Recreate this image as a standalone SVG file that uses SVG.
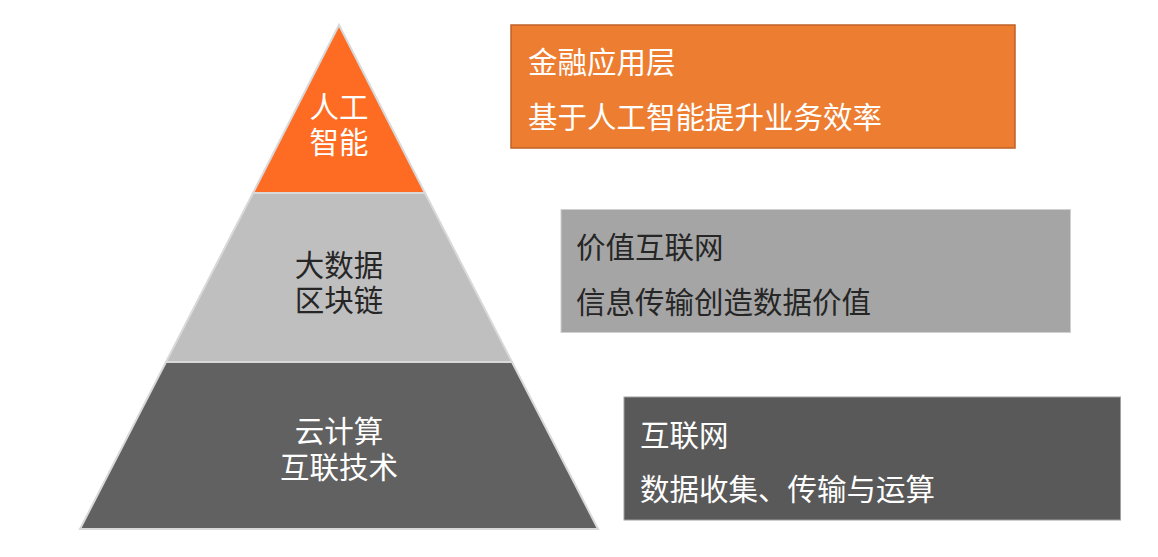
<svg xmlns="http://www.w3.org/2000/svg" width="1158" height="557" viewBox="0 0 1158 557">
<style>
  text { font-family: "Noto Sans CJK SC", "Noto Sans", sans-serif; font-size: 29.5px; }
  .c { text-anchor: middle; }
  .w { fill: #FFFFFF; }
  .d { fill: #262626; }
  .seg { stroke: #D9D9D9; stroke-width: 2; stroke-linejoin: miter; }
</style>
<rect width="1158" height="557" fill="#FFFFFF"/>
<g id="pyramid-top">
  <polygon class="seg" points="339,25 253,193 425,193" fill="#FE6B23"/>
  <text class="c w" x="339" y="118">人工<tspan x="339" dy="35">智能</tspan></text>
</g>
<g id="pyramid-mid">
  <polygon class="seg" points="253,193 425,193 512,362 166,362" fill="#BFBFBF"/>
  <text class="c d" x="339" y="276">大数据<tspan x="339" dy="35">区块链</tspan></text>
</g>
<g id="pyramid-bottom">
  <polygon class="seg" points="166,362 512,362 598,529 80,529" fill="#616161"/>
  <text class="c w" x="339" y="442">云计算<tspan x="339" dy="36">互联技术</tspan></text>
</g>
<g id="box-finance">
  <rect x="511" y="25" width="504" height="123" fill="#ED7D31" stroke="#BE6227" stroke-width="1.5"/>
  <text class="w" x="528" y="73">金融应用层<tspan x="528" dy="55">基于人工智能提升业务效率</tspan></text>
</g>
<g id="box-value">
  <rect x="561" y="209.5" width="509.5" height="123" fill="#A5A5A5" stroke="#D0D0D0" stroke-width="1"/>
  <text class="d" x="576" y="258">价值互联网<tspan x="576" dy="55">信息传输创造数据价值</tspan></text>
</g>
<g id="box-internet">
  <rect x="624" y="397" width="496.5" height="123" fill="#595959" stroke="#A0A0A0" stroke-width="1"/>
  <text class="w" x="640" y="446">互联网<tspan x="640" dy="54">数据收集、传输与运算</tspan></text>
</g>
<g id="connectors"></g>
</svg>
